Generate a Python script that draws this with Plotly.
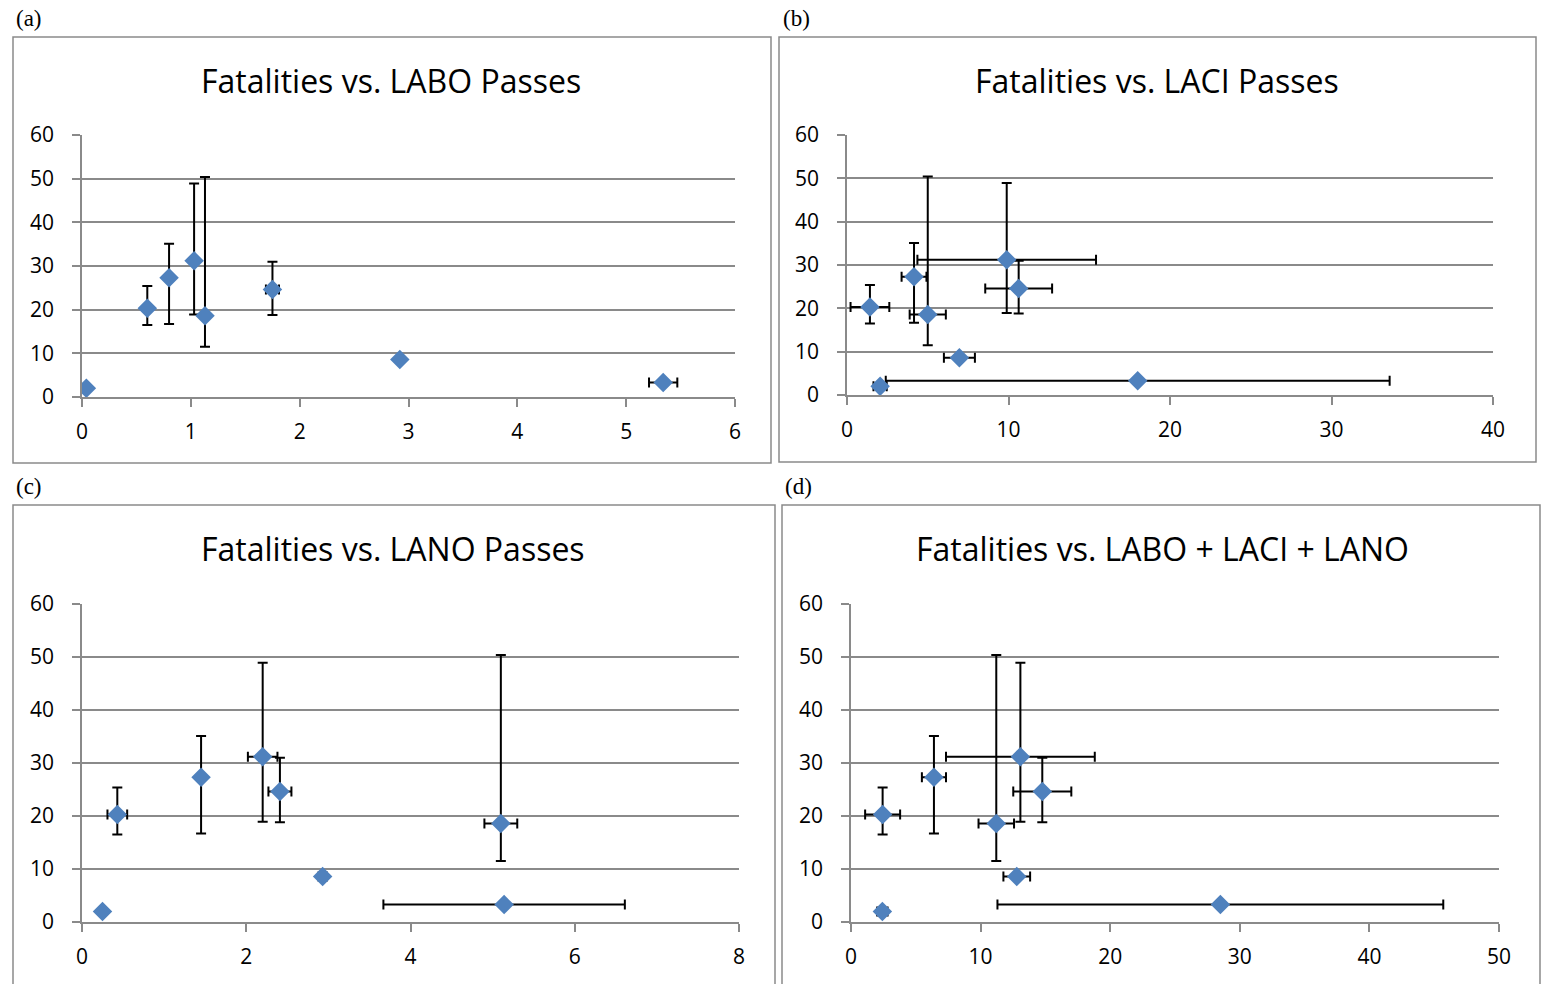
import plotly.graph_objects as go

# ---- data ----
fatal = [2.0, 20.3, 27.3, 31.2, 18.6, 24.6, 8.6, 3.3]
fatal_err_plus = [0, 5.1, 7.8, 17.7, 31.8, 6.4, 0, 0]
fatal_err_minus = [0, 3.8, 10.6, 12.3, 7.1, 5.8, 0, 0]

labo = [0.04, 0.60, 0.80, 1.03, 1.13, 1.75, 2.92, 5.34]
labo_err = [0, 0, 0, 0, 0, 0.06, 0, 0.13]

laci = [2.05, 1.42, 4.15, 9.89, 5.0, 10.63, 6.96, 18.0]
laci_err = [0.41, 1.2, 0.77, 5.53, 1.12, 2.07, 0.96, 15.6]

lano = [0.25, 0.43, 1.45, 2.20, 5.10, 2.41, 2.93, 5.14]
lano_err = [0, 0.12, 0.03, 0.18, 0.20, 0.14, 0.05, 1.47]

total = [2.42, 2.44, 6.40, 13.07, 11.21, 14.76, 12.79, 28.5]
total_err = [0.4, 1.35, 0.93, 5.74, 1.37, 2.24, 1.03, 17.2]

titles = ["Fatalities vs. LABO Passes", "Fatalities vs. LACI Passes",
          "Fatalities vs. LANO Passes", "Fatalities vs. LABO + LACI + LANO"]
panel_labels = ["(a)", "(b)", "(c)", "(d)"]
x_ranges = [(0, 6, 1), (0, 40, 10), (0, 8, 2), (0, 50, 10)]
y_range = (0, 60, 10)

# figure fills the whole 1542x984 page (body margin removed after plotting)
W, H = 1542, 984


def px_x(p):
    return p / W


def px_y(p):
    return 1 - p / H


# plot-area pixel boxes on the page (left, right, top, bottom)
plot_px = [(82, 735, 135, 397), (847, 1493, 135, 395),
           (82, 739, 604, 922), (851, 1499, 604, 922)]
box_px = [(13, 771, 37, 463), (779, 1536, 37, 462),
          (13, 775, 505, None), (782, 1540, 505, None)]
title_px = [(391, 80), (1157, 80), (393, 548), (1162, 548)]
label_px = [(14, 18), (781, 18), (14, 486), (783, 486)]

MARKER = "#4F81BD"
GRID = "#8a8a8a"
FONT = "Open Sans"

fig = go.Figure()
xs = [labo, laci, lano, total]
xerrs = [labo_err, laci_err, lano_err, total_err]

for i in range(4):
    sfx = "" if i == 0 else str(i + 1)
    fig.add_trace(go.Scatter(
        x=xs[i], y=fatal, mode="markers",
        xaxis="x" + sfx, yaxis="y" + sfx,
        marker=dict(symbol="diamond", size=15, color=MARKER),
        error_x=dict(type="data", array=xerrs[i], symmetric=True,
                     color="black", thickness=2, width=5),
        error_y=dict(type="data", array=fatal_err_plus, arrayminus=fatal_err_minus,
                     symmetric=False, color="black", thickness=2, width=5),
        showlegend=False, hoverinfo="x+y"))

    l, r, t, b = plot_px[i]
    x0, x1, dx = x_ranges[i]
    fig.update_layout(**{
        "xaxis" + sfx: dict(
            domain=[px_x(l), px_x(r)], range=[x0, x1], dtick=dx, tick0=0,
            anchor="y" + sfx, showgrid=False, zeroline=False, automargin=False,
            showline=True, linecolor=GRID, linewidth=1.5,
            ticks="outside", ticklen=8, tickcolor=GRID, tickwidth=1.5,
            tickfont=dict(family=FONT, size=21, color="#000"),
            ticklabelstandoff=7),
        "yaxis" + sfx: dict(
            domain=[px_y(b), px_y(t)], range=[y_range[0], y_range[1]],
            dtick=y_range[2], tick0=0, automargin=False,
            anchor="x" + sfx, showgrid=True, gridcolor=GRID, gridwidth=1.5,
            zeroline=False, showline=True, linecolor=GRID, linewidth=1.5,
            ticks="outside", ticklen=8, tickcolor=GRID, tickwidth=1.5,
            tickfont=dict(family=FONT, size=21, color="#000"),
            ticklabelstandoff=14),
    })

    bl, br, bt, bb = box_px[i]
    if bb is None:
        # box continues past the bottom edge of the page: draw three sides only
        path = (f"M {px_x(bl)},0 L {px_x(bl)},{px_y(bt)} "
                f"L {px_x(br)},{px_y(bt)} L {px_x(br)},0")
        fig.add_shape(type="path", xref="paper", yref="paper", path=path,
                      line=dict(color=GRID, width=1.5), layer="below")
    else:
        fig.add_shape(type="rect", xref="paper", yref="paper",
                      x0=px_x(bl), x1=px_x(br), y0=px_y(bb), y1=px_y(bt),
                      line=dict(color=GRID, width=1.5), fillcolor="rgba(0,0,0,0)",
                      layer="below")
    tx, ty = title_px[i]
    fig.add_annotation(text=titles[i], xref="paper", yref="paper",
                       x=px_x(tx), y=px_y(ty), showarrow=False,
                       xanchor="center", yanchor="middle",
                       font=dict(family=FONT, size=32, color="#000"))
    lx, ly = label_px[i]
    fig.add_annotation(text=panel_labels[i], xref="paper", yref="paper",
                       x=px_x(lx), y=px_y(ly), showarrow=False,
                       xanchor="left", yanchor="middle",
                       font=dict(family="Liberation Serif", size=23, color="#000"))

fig.update_layout(width=W, height=H, margin=dict(l=0, r=0, t=0, b=0, autoexpand=False),
                  paper_bgcolor="white", plot_bgcolor="white")

fig.write_html("out.html", config={"displayModeBar": False},
               post_script="document.body.style.margin='0';"
                           "document.body.style.overflow='hidden';")
